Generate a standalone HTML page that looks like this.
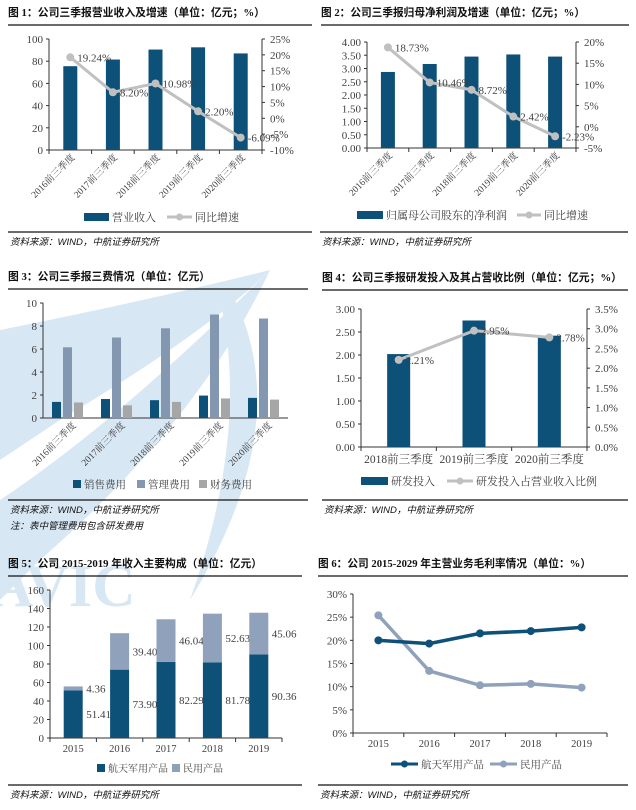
<!DOCTYPE html>
<html><head><meta charset="utf-8">
<style>
html,body{margin:0;padding:0;background:#fff;}
svg{display:block;}
text{font-family:"Liberation Serif","Noto Serif CJK SC",serif;fill:#404040;}
.t{font-family:"Liberation Serif","Noto Sans CJK SC",sans-serif;font-weight:bold;fill:#111;font-size:11px;}
.src{font-family:"Liberation Sans","Noto Sans CJK SC",sans-serif;font-style:italic;font-size:9.5px;fill:#111;}
</style></head>
<body>
<svg id="s" width="636" height="810" viewBox="0 0 636 810" xmlns="http://www.w3.org/2000/svg">
<g opacity="0.55">
<path d="M0 330 Q150 300 270 270 Q210 330 60 420 L0 460 Z" fill="#b9d5ec"/>
<path d="M0 500 Q120 420 270 270 Q200 420 40 560 L0 600 Z" fill="#b9d5ec"/>
<path d="M230 290 Q300 420 190 600 Q250 430 220 300 Z" fill="#b9d5ec"/>
<text x="-10" y="606" font-size="60" font-family="Liberation Sans" font-weight="bold" style="fill:#b9d5ec">AVIC</text>
</g>
</svg>
<script>
const NS='http://www.w3.org/2000/svg';
const S=document.getElementById('s');
function mk(tag,a,p){const e=document.createElementNS(NS,tag);for(const k in a)e.setAttribute(k,a[k]);(p||S).appendChild(e);return e;}
function tx(x,y,s,a,p){const e=mk('text',Object.assign({x:x,y:y},a||{}),p);e.textContent=s;return e;}
const DARK='#0d5078',GRAY='#c0c0c0',MG='#8497b0',FIN='#a6a6a6',CIV='#8fa1bb';

// ---- Chart 1 data
const c1Cats=['2016前三季度','2017前三季度','2018前三季度','2019前三季度','2020前三季度'];
const c1Rev=[75.5,81.5,90.5,92.5,87];
const c1Growth=[19.24,8.20,10.98,2.20,-6.09];
const c1LeftTicks=[0,20,40,60,80,100];
const c1RightTicks=[-10,-5,0,5,10,15,20,25];
// ---- Chart 2 data
const c2Cats=['2016前三季度','2017前三季度','2018前三季度','2019前三季度','2020前三季度'];
const c2Profit=[2.87,3.17,3.45,3.53,3.45];
const c2Growth=[18.73,10.46,8.72,2.42,-2.23];
const c2LeftTicks=[0,0.5,1,1.5,2,2.5,3,3.5,4];
const c2RightTicks=[-5,0,5,10,15,20];
// ---- Chart 3 data
const c3Cats=['2016前三季度','2017前三季度','2018前三季度','2019前三季度','2020前三季度'];
const c3Sales=[1.4,1.65,1.55,1.95,1.75];
const c3Mgmt=[6.15,7.0,7.8,9.0,8.65];
const c3Fin=[1.35,1.1,1.4,1.7,1.6];
const c3Ticks=[0,2,4,6,8,10];
// ---- Chart 4 data
const c4Cats=['2018前三季度','2019前三季度','2020前三季度'];
const c4RD=[2.02,2.75,2.42];
const c4Ratio=[2.21,2.95,2.78];
const c4LeftTicks=[0,0.5,1,1.5,2,2.5,3];
const c4RightTicks=[0,0.5,1,1.5,2,2.5,3,3.5];
// ---- Chart 5 data
const c5Cats=['2015','2016','2017','2018','2019'];
const c5Mil=[51.41,73.90,82.29,81.78,90.36];
const c5Civ=[4.36,39.40,46.04,52.63,45.06];
const c5Ticks=[0,20,40,60,80,100,120,140,160];
// ---- Chart 6 data
const c6Cats=['2015','2016','2017','2018','2019'];
const c6Mil=[20.0,19.3,21.5,22.0,22.8];
const c6Civ=[25.4,13.4,10.3,10.6,9.8];
const c6Ticks=[0,5,10,15,20,25,30];

function lin(d0,d1,r0,r1){return v=>r0+(v-d0)*(r1-r0)/(d1-d0);}
function header(x,y,w,title,name,tl){
  const t=tx(x,y,title,{class:'t',textLength:tl,lengthAdjust:'spacingAndGlyphs'});
  
  
  const r=mk('line',{x1:x,x2:x+w,y1:y+9,y2:y+9,stroke:'#111','stroke-width':1.2});
  
  
}
function source(x,y,w,name){
  const r=mk('line',{x1:x,x2:x+w,y1:y,y2:y,stroke:'#111','stroke-width':1.2});
  
  
  const t=tx(x+2,y+13,'资料来源：WIND，中航证券研究所',{class:'src'});
  
  
}
function leftAxis(x,y0,y1,ticks,scale,fmt,name,xr){
  const a=mk('line',{x1:x,x2:x,y1:y0,y2:y1,stroke:'#333'});
  
  
  ticks.forEach(v=>{
    const y=scale(v);
    mk('line',{x1:x-3,x2:x,y1:y,y2:y,stroke:'#333'});
    const t=tx(x-6,y+4,fmt(v),{'text-anchor':'end','font-size':11});
    
    
  });
  if(xr!==undefined){
    const b=mk('line',{x1:x,x2:xr,y1:y0,y2:y0,stroke:'#333'});
    
    
  }
}
function rightAxis(x,y0,y1,ticks,scale,fmt,name){
  const a=mk('line',{x1:x,x2:x,y1:y0,y2:y1,stroke:'#333'});
  
  
  ticks.forEach(v=>{
    const y=scale(v);
    mk('line',{x1:x,x2:x+3,y1:y,y2:y,stroke:'#333'});
    const t=tx(x+8,y+4,fmt(v),{'font-size':11});
    
    
  });
}
function catTicks(x0,x1,y,n){
  const w=(x1-x0)/n;
  for(let i=0;i<=n;i++)mk('line',{x1:x0+i*w,x2:x0+i*w,y1:y,y2:y+4,stroke:'#333'});
}
function rotLabels(cats,xs,y,name){
  cats.forEach((c,i)=>{
    const t=tx(xs(i)+5,y+8,c,{'text-anchor':'end','font-size':9.5,transform:`rotate(-45 ${xs(i)+5} ${y+8})`});
    
    
  });
}
function legRect(x,y,w,h,c,label,name,fs){
  const r=mk('rect',{x:x,y:y-h/2-3,width:w,height:h,fill:c});
  
  
  const t=tx(x+w+3,y+1,label,{'font-size':fs||11});
  
  
}
function legLine(x,y,w,c,label,name,fs){
  const l=mk('line',{x1:x,x2:x+w,y1:y-3,y2:y-3,stroke:c,'stroke-width':3});
  
  
  mk('circle',{cx:x+w/2,cy:y-3,r:3.5,fill:c});
  const t=tx(x+w+3,y+1,label,{'font-size':fs||11});
  
  
}
function bars(vals,xs,ys,y0,w,c,name){
  vals.forEach((v,i)=>{
    const r=mk('rect',{x:xs(i)-w/2,y:ys(v),width:w,height:y0-ys(v),fill:c});
    
    
  });
}
function line(vals,xs,ys,c,sw,name,labels){
  const l=mk('polyline',{points:vals.map((v,i)=>xs(i)+','+ys(v)).join(' '),fill:'none',stroke:c,'stroke-width':sw});
  
  
  vals.forEach((v,i)=>{
    const p=mk('circle',{cx:xs(i),cy:ys(v),r:4,fill:c});
    
    
    if(labels){
      const t=tx(xs(i)+7,ys(v)+4,v.toFixed(2)+'%',{'font-size':11});
      
      
    }
  });
}
const pct=v=>v+'%';

// Chart 1
(function(){
  header(8,16,304,'图 1：公司三季报营业收入及增速（单位：亿元；%）','chart1',257);
  const xL=49,xR=262,y0=150,yT=39,n=c1Cats.length,cw=(xR-xL)/n;
  const xs=i=>xL+cw*(i+0.5);
  const yl=lin(0,100,y0,yT), yr=lin(-10,25,y0,yT);
  leftAxis(xL,y0,yT,c1LeftTicks,yl,v=>v,'chart1',xR);
  rightAxis(xR,y0,yT,c1RightTicks,yr,pct,'chart1');
  catTicks(xL,xR,y0,n);
  bars(c1Rev,xs,yl,y0,14,DARK,'chart1-revenue');
  line(c1Growth,xs,yr,GRAY,3,'chart1-growth',true);
  rotLabels(c1Cats,xs,y0,'chart1');
  legRect(84,220,25,8,DARK,'营业收入','chart1');
  legLine(167,220,25,GRAY,'同比增速','chart1');
  source(8,232,304,'chart1');
})();
// Chart 2
(function(){
  header(321,16,308,'图 2：公司三季报归母净利润及增速（单位：亿元；%）','chart2',264);
  const xL=367,xR=576,y0=148,yT=42,n=c2Cats.length,cw=(xR-xL)/n;
  const xs=i=>xL+cw*(i+0.5);
  const yl=lin(0,4,y0,yT), yr=lin(-5,20,y0,yT);
  leftAxis(xL,y0,yT,c2LeftTicks,yl,v=>v.toFixed(2),'chart2',xR);
  rightAxis(xR,y0,yT,c2RightTicks,yr,pct,'chart2');
  catTicks(xL,xR,y0,n);
  bars(c2Profit,xs,yl,y0,14,DARK,'chart2-profit');
  line(c2Growth,xs,yr,GRAY,3,'chart2-growth',true);
  rotLabels(c2Cats,xs,y0,'chart2');
  legRect(357,218,26,8,DARK,'归属母公司股东的净利润','chart2');
  legLine(517,218,24,GRAY,'同比增速','chart2');
  source(320,232,308,'chart2');
})();
// Chart 3
(function(){
  header(8,280,300,'图 3：公司三季报三费情况（单位：亿元）','chart3',202);
  const xL=43,xR=288,y0=418,yT=303,n=c3Cats.length,cw=(xR-xL)/n;
  const xc=i=>xL+cw*(i+0.5);
  const y=lin(0,10,y0,yT);
  leftAxis(xL,y0,yT,c3Ticks,y,v=>v,'chart3',xR);
  bars(c3Sales,i=>xc(i)-11,y,y0,9,DARK,'chart3-sales');
  bars(c3Mgmt,i=>xc(i),y,y0,9,MG,'chart3-mgmt');
  bars(c3Fin,i=>xc(i)+11,y,y0,9,FIN,'chart3-fin');
  rotLabels(c3Cats,i=>xc(i)+4,y0,'chart3');
  legRect(73,487,8,8,DARK,'销售费用','chart3',10.5);
  legRect(137,487,8,8,MG,'管理费用','chart3',10.5);
  legRect(199,487,8,8,FIN,'财务费用','chart3',10.5);
  source(8,500,300,'chart3');
  const nt=tx(10,529,'注：表中管理费用包含研发费用',{class:'src'});
  
  
})();
// Chart 4
(function(){
  header(322,281,306,'图 4：公司三季报研发投入及其占营收比例（单位：亿元；%）','chart4',300);
  const xL=361,xR=587,y0=447,yT=309,n=c4Cats.length,cw=(xR-xL)/n;
  const xs=i=>xL+cw*(i+0.5);
  const yl=lin(0,3,y0,yT), yr=lin(0,3.5,y0,yT);
  leftAxis(xL,y0,yT,c4LeftTicks,yl,v=>v.toFixed(2),'chart4',xR);
  rightAxis(xR,y0,yT,c4RightTicks,yr,v=>v.toFixed(1)+'%','chart4');
  catTicks(xL,xR,y0,n);
  bars(c4RD,xs,yl,y0,23,DARK,'chart4-rd');
  line(c4Ratio,xs,yr,GRAY,3,'chart4-ratio',true);
  c4Cats.forEach((c,i)=>{
    const t=tx(xs(i),463,c,{'text-anchor':'middle','font-size':11.5});
    
    
  });
  legRect(361,484,27,8,DARK,'研发投入','chart4');
  legLine(447,484,26,GRAY,'研发投入占营业收入比例','chart4');
  source(322,500,306,'chart4');
})();
// Chart 5
(function(){
  header(8,567,294,'图 5：公司 2015-2019 年收入主要构成（单位：亿元）','chart5',254);
  const xL=50,xR=282,y0=738,yT=590,n=c5Cats.length,cw=(xR-xL)/n;
  const xs=i=>xL+cw*(i+0.5);
  const y=lin(0,160,y0,yT);
  leftAxis(xL,y0,yT,c5Ticks,y,v=>v,'chart5',xR);
  catTicks(xL,xR,y0,n);
  bars(c5Mil,xs,y,y0,19,DARK,'chart5-military');
  c5Civ.forEach((v,i)=>{
    const top=y(c5Mil[i]+v), bot=y(c5Mil[i]);
    const r=mk('rect',{x:xs(i)-9.5,y:top,width:19,height:bot-top,fill:CIV});
    
    
    const t=tx(xs(i)+13,(top+bot)/2+4,v.toFixed(2),{'font-size':11});
    
    
    const t2=tx(xs(i)+13,(y0+bot)/2+4,c5Mil[i].toFixed(2),{'font-size':11});
    
    
  });
  c5Cats.forEach((c,i)=>{
    const t=tx(xs(i),752,c,{'text-anchor':'middle','font-size':10.5});
    
    
  });
  legRect(97,771,8,8,DARK,'航天军用产品','chart5',10);
  legRect(172,771,8,8,CIV,'民用产品','chart5',10);
  source(8,785,294,'chart5');
})();
// Chart 6
(function(){
  header(318,567,310,'图 6：公司 2015-2029 年主营业务毛利率情况（单位：%）','chart6',273);
  const xL=353,xR=607,y0=733,yT=594,n=c6Cats.length,cw=(xR-xL)/n;
  const xs=i=>xL+cw*(i+0.5);
  const y=lin(0,30,y0,yT);
  leftAxis(xL,y0,yT,c6Ticks,y,pct,'chart6',xR);
  catTicks(xL,xR,y0,n);
  line(c6Civ,xs,y,CIV,3.5,'chart6-civil',false);
  line(c6Mil,xs,y,DARK,3.5,'chart6-military',false);
  c6Cats.forEach((c,i)=>{
    const t=tx(xs(i),747,c,{'text-anchor':'middle','font-size':10.5});
    
    
  });
  legLine(391,767,27,DARK,'航天军用产品','chart6',10.5);
  legLine(490,767,27,CIV,'民用产品','chart6',10.5);
  source(318,785,310,'chart6');
})();
</script>
</body></html>
